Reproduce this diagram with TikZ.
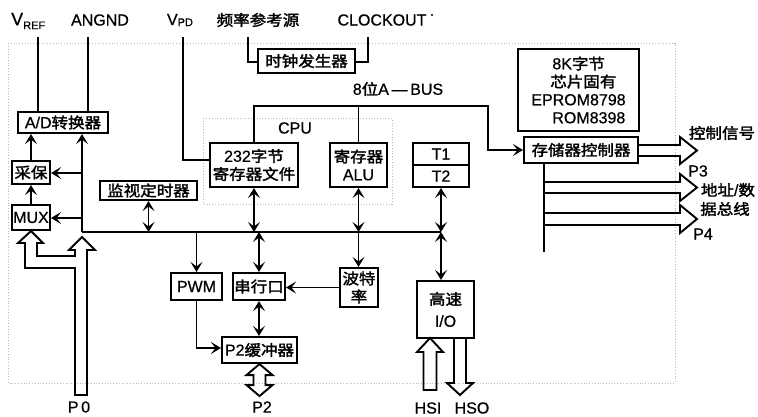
\documentclass[tikz,border=0pt]{standalone}
\usepackage{fontspec}
\setmainfont{Liberation Sans}[FakeBold=0.6]
\newfontfamily\cjk{Noto Sans CJK SC}[FakeStretch=1.1,FakeBold=2]
\newcommand\zh[1]{{\cjk\fontsize{15}{18}\selectfont #1}}
\usetikzlibrary{arrows.meta,calc}
\begin{document}
\begin{tikzpicture}[x=1pt,y=-1pt,
  every node/.style={font=\fontsize{16}{18}\selectfont, inner sep=0pt},
  wh/.style 2 args={minimum width=#1pt,minimum height=#2pt},
  blk/.style={draw, line width=2.1pt, align=center},
  ln/.style={line width=1.9pt},
  tip/.style={},
  arr/.style={ln, -{Stealth[length=10pt,width=12pt,inset=4.5pt]}},
  darr/.style={ln, {Stealth[length=10pt,width=12pt,inset=4.5pt]}-{Stealth[length=10pt,width=12pt,inset=4.5pt]}},
  hol/.style={line width=1.9pt, line join=miter},
  frame/.style={gray!55, dotted, line width=0.8pt}]
\useasboundingbox (0,0) rectangle (758,416);
\fill[white] (0,0) rectangle (758,416);
% dotted frames
\draw[frame] (8,43) rectangle (675,383);
\draw[frame] (203,118) rectangle (392,204);
% blocks
\node[blk, wh={90}{21}] (ad) at (63,122.5) {A/D\zh{转换器}};
\node[blk, wh={38}{23}] (cb) at (31,172.5) {\zh{采保}};
\node[blk, wh={38}{25}] (mux) at (31,217.5) {MUX};
\node[blk, wh={97}{19}] (wdt) at (148.5,190.5) {\zh{监视定时器}};
\node[blk, wh={88}{44}] (rf) at (254,165) {232\zh{字节}\\\zh{寄存器文件}};
\node[blk, wh={57}{44}] (alu) at (358.5,165) {\zh{寄存器}\\ALU};
\node[blk, wh={56}{22}] (t1) at (441,154) {T1};
\node[blk, wh={56}{22}] (t2) at (441,176) {T2};
\node[blk, line width=2.7pt, wh={97}{24}] (clk) at (306.5,61) {\zh{时钟发生器}};
\node[blk, wh={121}{82}, align=left] (rom) at (578.5,90)
  {\hspace*{21pt}8K\zh{字节}\\\hspace*{19pt}\zh{芯片固有}\\EPROM8798\\\hspace*{21pt}ROM8398};
\node[blk, wh={114}{26}] (mc) at (581,150) {\zh{存储器控制器}};
\node[blk, wh={51}{27}] (pwm) at (196.5,286.5) {PWM};
\node[blk, wh={52}{27}] (sp) at (259,286.5) {\zh{串行口}};
\node[blk, wh={38}{39}] (baud) at (359,287.5) {\zh{波特}\\\zh{率}};
\node[blk, wh={75}{26}] (p2b) at (259.5,350) {P2\zh{缓冲器}};
\node[blk, wh={57}{57}, font=\fontsize{16}{22}\selectfont] (hio) at (445.5,309.5) {\zh{高速}\\I/O};
% labels
\node[anchor=west] (lvref) at (11,21) {\fontsize{18}{18}\selectfont V\raisebox{-4pt}{\fontsize{11}{11}\selectfont REF}};
\node (langnd) at (100,20) {ANGND};
\node (lvpd) at (180,20) {V\raisebox{-1pt}{\fontsize{11}{11}\selectfont PD}};
\node (lfreq) at (258,20) {\zh{频率参考源}};
\node (lclk) at (382,20) {CLOCKOUT};
\fill (432,15) circle (1.2);
\node (labus) at (398,89) {8\zh{位}A\,—\,BUS};
\node (lcpu) at (295,128) {CPU};
\node (lctl) at (722,133) {\zh{控制信号}};
\node (lp3) at (698,171) {P3};
\node (laddr1) at (728,190) {\zh{地址}/\zh{数}};
\node (laddr2) at (725,209) {\zh{据总线}};
\node (lp4) at (703,234) {P4};
\node (lp0) at (79,407) {P\,0};
\node (lp2) at (262,407) {P2};
\node (lhsi) at (428,408) {HSI};
\node (lhso) at (472,408) {HSO};
% top inputs
\coordinate (vr) at (38,37);
\coordinate (an) at (88,37);
\coordinate (vpd) at (183,37);
\coordinate (fq) at (248,37);
\coordinate (co) at (368,37);
\draw[ln] (vr) -- (vr |- ad.north);
\draw[ln] (an) -- (an |- ad.north);
\draw[ln] (vpd) |- ($(rf.west)+(0,-5)$);
\draw[ln] (fq) |- ($(clk.west)+(0,1)$);
\draw[ln] (co) |- ($(clk.east)+(0,1)$);
% 8-bit A-BUS
\coordinate (abr) at (488,106);
\draw[arr] (rf.north) |- (abr) |- (mc.west);
\draw[ln] (alu.north) -- (alu.north |- abr);
% internal bus
\coordinate (bl) at (82,232);
\coordinate (br) at (441,232);
\draw[ln] (bl) -- (br);
\draw[arr] (bl) -- (bl |- ad.south);
\coordinate (j1) at (82,173);
\coordinate (j2) at (82,218);
\draw[arr] (j1) -- (j1 -| cb.east);
\draw[arr] (j2) -- (j2 -| mux.east);
\draw[arr] (mux.north) -- (cb.south);
\draw[arr] (cb.north) -- (cb.north |- ad.south);
\draw[darr] (wdt.south) -- (wdt.south |- bl);
\draw[darr] (rf.south) -- (rf.south |- bl);
\draw[darr] (alu.south) -- (alu.south |- bl);
\draw[darr] (t2.south) -- (t2.south |- bl);
\draw[darr] (t2.south |- bl) -- (t2.south |- hio.north);
\draw[darr] (sp.north |- bl) -- (sp.north);
\draw[arr] (alu.south |- bl) -- (alu.south |- baud.north);
\draw[arr] (pwm.north |- bl) -- (pwm.north);
\draw[arr] (pwm.south) |- ($(p2b.west)+(0,-2)$);
\draw[darr] (sp.south) -- (sp.south |- p2b.north);
\draw[arr] (baud.west) -- (baud.west -| sp.east);
% memory side
\coordinate (mv) at (544,252);
\draw[ln] (mv |- mc.south) -- (mv);
\draw[hol] (mc.east |- 0,145) -- (680,145) -- (680,137) -- (697,150.5) -- (680,164) -- (680,156) -- (mc.east |- 0,156);
\draw[hol] (544,182) -- (680,182) -- (680,174) -- (697,187.5) -- (680,201) -- (680,193) -- (544,193);
\draw[hol] (544,213) -- (680,213) -- (680,205) -- (697,219) -- (680,233) -- (680,225) -- (544,225);
% P0 bus
\draw[hol] (87,395) -- (87,250) -- (95,250) -- (82,237) -- (69,250) -- (75,250) -- (75,256)
  -- (37,256) -- (37,243) -- (43,243) -- (mux.south) -- (18,243) -- (25,243) -- (25,268)
  -- (75,268) -- (75,395) -- cycle;
% P2 bus
\draw[hol] (p2b.south) -- ++(13,11) -- ++(-7,0) -- ++(0,10) -- ++(7,0) -- ++(-13,11)
  -- ++(-13,-11) -- ++(7,0) -- ++(0,-10) -- ++(-7,0) -- cycle;
% HSI / HSO
\draw[hol] (430,338) -- (443,352) -- (436.5,352) -- (436.5,390) -- (423.5,390) -- (423.5,352) -- (417,352) -- cycle;
\draw[hol] (454,338) -- (454,383) -- (447,383) -- (460,395) -- (473,383) -- (466,383) -- (466,338);
\end{tikzpicture}
\end{document}
